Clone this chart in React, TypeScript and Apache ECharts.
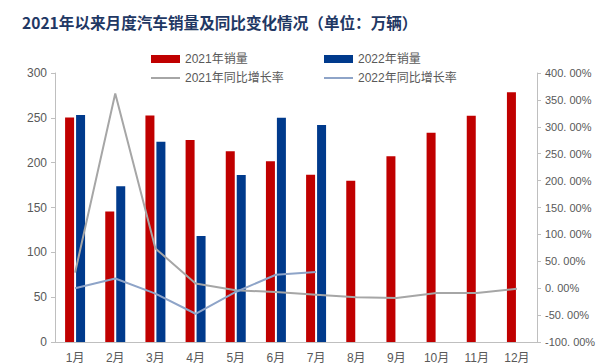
import React, { useEffect, useRef } from "react";
import * as echarts from "echarts";

const months = ["1月", "2月", "3月", "4月", "5月", "6月", "7月", "8月", "9月", "10月", "11月", "12月"];
const sales2021 = [250.3, 145.5, 252.6, 225.2, 212.8, 201.5, 186.4, 179.9, 207.1, 233.3, 252.2, 278.6];
const sales2022 = [253.1, 173.7, 223.4, 118.1, 186.2, 250.2, 242.0];
const growth2021 = [29, 362, 74, 8.6, -4, -7, -12, -17, -18, -9, -9, -1];
const growth2022 = [0, 18, -10, -47.5, -7, 25, 30];

const RED = "#C00000";
const BLUE = "#003A8C";
const GRAY = "#A6A6A6";
const BLUEGRAY = "#8EA4C8";
const TXT = "#595959";
const FONT = "'Liberation Sans', 'Noto Sans CJK SC', sans-serif";

export default function App() {
  const ref = useRef<HTMLDivElement>(null);
  useEffect(() => {
    const chart = echarts.init(ref.current!, null, { renderer: "svg" });
    const legendText = { color: TXT, fontSize: 12, fontFamily: FONT };
    chart.setOption({
      animation: false,
      backgroundColor: "#ffffff",
      title: {
        text: "2021年以来月度汽车销量及同比变化情况（单位：万辆）",
        left: 17,
        top: 9,
        textStyle: { color: "#1F3864", fontSize: 15.6, fontWeight: "bold", fontFamily: "'Noto Sans CJK SC', sans-serif" },
      },
      legend: [
        { data: ["2021年销量"], left: 146, top: 48, icon: "rect", itemWidth: 29, itemHeight: 8, textStyle: legendText },
        { data: ["2022年销量"], left: 319, top: 48, icon: "rect", itemWidth: 29, itemHeight: 8, textStyle: legendText },
        { data: ["2021年同比增长率"], left: 146, top: 67, icon: "rect", itemWidth: 29, itemHeight: 2, textStyle: legendText },
        { data: ["2022年同比增长率"], left: 319, top: 67, icon: "rect", itemWidth: 29, itemHeight: 2, textStyle: legendText },
      ],
      grid: { left: 55, right: 78, top: 73, bottom: 21, containLabel: false },
      xAxis: {
        type: "category",
        data: months,
        axisLine: { lineStyle: { color: "#BFBFBF" } },
        axisTick: { show: false },
        axisLabel: { color: TXT, fontSize: 12, fontFamily: FONT, margin: 10 },
      },
      yAxis: [
        {
          type: "value",
          min: 0,
          max: 300,
          interval: 50,
          axisLine: { show: true, lineStyle: { color: "#BFBFBF" } },
          axisTick: { show: true, length: 4, lineStyle: { color: "#BFBFBF" } },
          splitLine: { show: false },
          axisLabel: { color: TXT, fontSize: 12, fontFamily: FONT, margin: 8 },
        },
        {
          type: "value",
          min: -100,
          max: 400,
          interval: 50,
          axisLine: { show: true, lineStyle: { color: "#BFBFBF" } },
          axisTick: { show: true, length: 4, lineStyle: { color: "#BFBFBF" } },
          splitLine: { show: false },
          axisLabel: {
            color: TXT,
            fontSize: 11,
            fontFamily: FONT,
            margin: 8,
            formatter: (v: number) => v.toFixed(2).replace(".", ". ") + "%",
          },
        },
      ],
      series: [
        { name: "2021年销量", type: "bar", data: sales2021, barWidth: 9, barGap: "22%", itemStyle: { color: RED } },
        { name: "2022年销量", type: "bar", data: sales2022, barWidth: 9, barGap: "22%", itemStyle: { color: BLUE } },
        {
          name: "2021年同比增长率",
          type: "line",
          yAxisIndex: 1,
          data: growth2021,
          symbol: "none",
          showSymbol: false,
          lineStyle: { color: GRAY, width: 2 },
          itemStyle: { color: GRAY },
          z: 5,
        },
        {
          name: "2022年同比增长率",
          type: "line",
          yAxisIndex: 1,
          data: growth2022,
          symbol: "none",
          showSymbol: false,
          lineStyle: { color: BLUEGRAY, width: 2 },
          itemStyle: { color: BLUEGRAY },
          z: 5,
        },
      ],
    });
    return () => chart.dispose();
  }, []);
  return <div ref={ref} style={{ width: 615, height: 364, position: "absolute", left: 0, top: 0 }} />;
}
